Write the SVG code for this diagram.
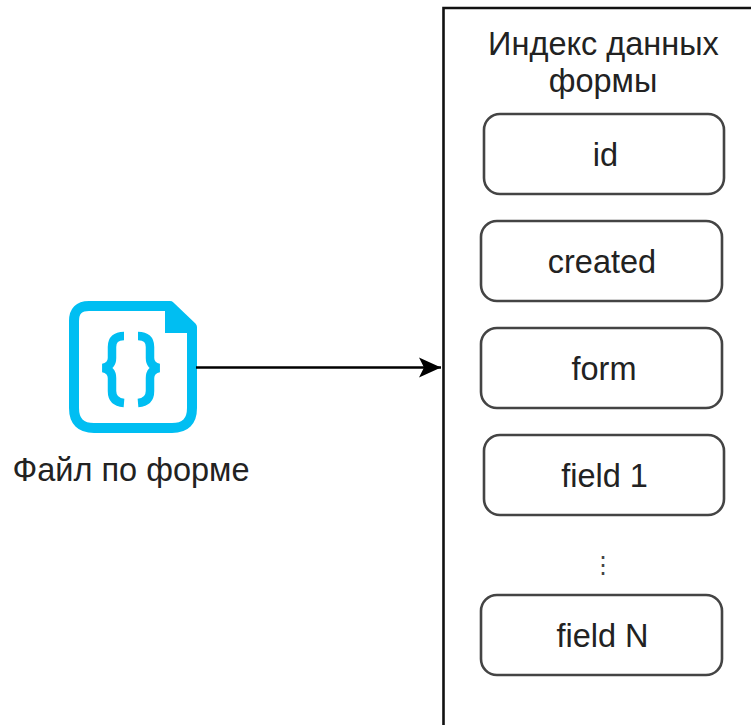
<svg xmlns="http://www.w3.org/2000/svg" width="751" height="725" viewBox="0 0 751 725">
<style>
text{font-family:"Liberation Sans",Arial,sans-serif;fill:#222;text-anchor:middle;font-size:32.500px}
.b{fill:#fff;stroke:#444;stroke-width:2.600}
</style>
<defs><marker id="a" markerUnits="userSpaceOnUse" markerWidth="24" markerHeight="22" refX="22" refY="11" orient="auto"><path d="M0 1 L22 11 L0 21 L5 11Z" fill="#000"/></marker></defs>
<rect width="751" height="725" fill="#fff"/>
<g id="index"><path d="M443.500 725V8H751" fill="#fff" stroke="#111" stroke-width="2.600"/>
<text x="603.500" y="55">Индекс данных</text><text x="603" y="92">формы</text></g>
<g id="n-id"><rect class="b" x="484" y="114" width="240" height="80" rx="16"/><text x="605.500" y="166">id</text></g>
<g id="n-created"><rect class="b" x="481" y="221" width="241" height="80" rx="16"/><text x="602" y="273">created</text></g>
<g id="n-form"><rect class="b" x="481" y="328" width="241" height="80" rx="16"/><text x="604" y="380">form</text></g>
<g id="n-field1"><rect class="b" x="484" y="435" width="240" height="80" rx="16"/><text x="604.500" y="487">field 1</text></g>
<g id="n-dots"><text x="603" y="572.500" style="font-family:'DejaVu Sans',sans-serif;font-size:24px;fill:#444">⋮</text></g>
<g id="n-fieldN"><rect class="b" x="481" y="595" width="241" height="80" rx="16"/><text x="602.500" y="647">field N</text></g>
<g id="file"><path d="M89 306H170L192 327V408Q192 428 172 428H94Q74 428 74 408V321Q74 306 89 306Z" fill="#fff" stroke="#00BEF2" stroke-width="10" stroke-linejoin="round"/>
<path d="M165 302H171L196 326V333H165Z" fill="#00BEF2"/>
<path d="M124 336Q112 336 112 347V358Q112 366 103 368Q112 370 112 378V391Q112 402 124 403M138 336Q150 336 150 347V358Q150 366 159 368Q150 370 150 378V391Q150 402 138 403" fill="none" stroke="#00BEF2" stroke-width="8.500"/>
<text x="131" y="481">Файл по форме</text></g>
<g id="connectors"><path d="M196 367.500H441" fill="none" stroke="#000" stroke-width="2.600" marker-end="url(#a)"/></g>
</svg>
